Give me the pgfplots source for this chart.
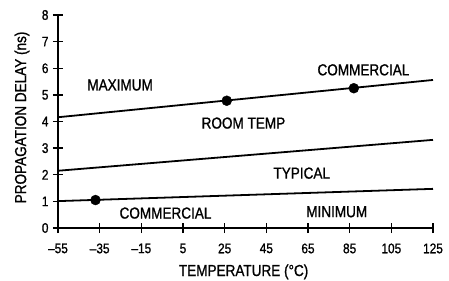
\documentclass[border=0pt]{standalone}
\usepackage{fontspec}
\setmainfont{Liberation Sans}[FakeStretch=0.85, FakeBold=1]
\usepackage{pgfplots}
\pgfplotsset{compat=1.18}
\begin{document}
\begin{tikzpicture}
\useasboundingbox (-58bp,-53bp) rectangle (391bp,228bp);
\begin{axis}[
  at={(0,0)}, anchor=south west,
  scale only axis, width=375bp, height=213bp,
  xmin=-55, xmax=125, ymin=0, ymax=8,
  axis x line=bottom, axis y line=left,
  axis line style={-, line width=1.5pt},
  xtick={-55,-35,-15,5,25,45,65,85,105,125},
  xticklabels={\textendash55,\textendash35,\textendash15,5,25,45,65,85,105,125},
  ytick={0,1,...,8},
  tick align=center, major tick length=10bp,
  tick style={line width=1.3pt, black},
  ticklabel style={font=\fontsize{14}{16}\selectfont},
  xticklabel style={yshift=-7bp},
  yticklabel style={xshift=-1bp},
  /pgf/number format/assume math mode=true,
  clip=false,
]
\addplot[black, line width=1.8pt] coordinates {(-55,4.16) (125,5.56)};
\addplot[black, line width=1.8pt] coordinates {(-55,2.15) (125,3.31)};
\addplot[black, line width=1.8pt] coordinates {(-55,1.01) (125,1.47)};
\addplot[only marks, mark=*, mark size=5pt, black] coordinates {(-37,1.05) (26,4.78) (87,5.25)};
\begin{scope}[every node/.style={font=\fontsize{16}{18}\selectfont, inner sep=0pt}]
\node at (axis cs:-25.2,5.37) {MAXIMUM};
\node at (axis cs:91.6,5.94) {COMMERCIAL};
\node at (axis cs:34,3.94) {ROOM TEMP};
\node at (axis cs:62,2.06) {TYPICAL};
\node at (axis cs:-3.4,0.56) {COMMERCIAL};
\node at (axis cs:78.8,0.61) {MINIMUM};
\end{scope}
\node[rotate=90, font=\fontsize{16}{18}\selectfont, inner sep=0pt] at ([xshift=-36bp]rel axis cs:0,0.519) {PROPAGATION DELAY (ns)};
\node[anchor=base, font=\fontsize{16}{18}\selectfont, inner sep=0pt] at ([yshift=-48bp]rel axis cs:0.495,0) {TEMPERATURE (°C)};
\end{axis}
\end{tikzpicture}
\end{document}
